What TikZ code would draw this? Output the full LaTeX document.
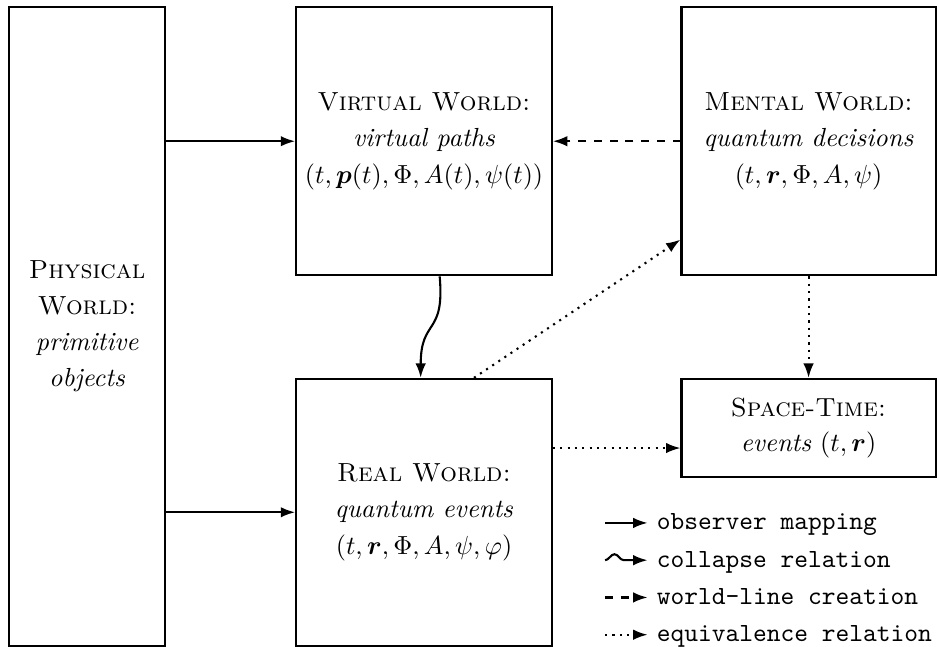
\documentclass[tikz,border=0pt]{standalone}
\usepackage{amsmath}
\usetikzlibrary{arrows.meta, decorations.pathmorphing}

\begin{document}
\begin{tikzpicture}[
 >={Latex[length=5.5pt, width=4pt]},
 world/.style args = {#1/#2}{%
      rectangle, draw, thick, align=center,
      minimum width=#1, minimum height=#2},
 observe/.style  = {->, thick},
 collapse/.style = {->, thick},
 wline/.style    = {->, thick, dashed},
 equiv/.style    = {->, thick, dotted},
 legtxt/.style   = {anchor=west, font=\ttfamily,
                    text height=1.5ex, text depth=.25ex}
                    ]
\useasboundingbox (0,0) rectangle (12.6,8.68);
% worlds
\node (phys) [world=2.10cm/8.57cm]   at ( 1.17, 4.30)
      {\textsc{Physical}\\[1.8pt] \textsc{World:}\\[1.8pt]
       \textit{primitive}\\[1.8pt] \textit{objects}};
\node (virt) [world=3.43cm/3.60cm]   at ( 5.69, 6.785)
      {\textsc{Virtual World:}\\[1.8pt] \textit{virtual paths}\\[1.8pt]
       $(t,\boldsymbol{p}(t),\Phi,A(t),\psi(t))$};
\node (ment) [world=3.41cm/3.60cm]   at (10.85, 6.785)
      {\textsc{Mental World:}\\[1.8pt] \textit{quantum decisions}\\[1.8pt]
       $(t,\boldsymbol{r},\Phi,A,\psi)$};
\node (real) [world=3.43cm/3.58cm]   at ( 5.69, 1.806)
      {\textsc{Real World:}\\[1.8pt] \textit{quantum events}\\[1.8pt]
       $(t,\boldsymbol{r},\Phi,A,\psi,\varphi)$};
\node (st)   [world=3.41cm/1.315cm]  at (10.85, 2.938)
      {\textsc{Space-Time:}\\[1.5pt] \textit{events} $(t,\boldsymbol{r})$};
\coordinate (stin) at ([yshift=-.27cm]st.west);
 %
\draw[observe] (phys.east |- virt.west) -- (virt.west);
\draw[observe] (phys.east |- real.west) -- (real.west);
\draw[wline]   (ment.west) -- (virt.east);
\draw[collapse] ([xshift=.21cm]virt.south)
        to[out=-85, in=90, looseness=1.5] ([xshift=-.045cm]real.north);
\draw[equiv]   ([xshift=.67cm]real.north) -- ([yshift=-1.32cm]ment.west);
\draw[equiv]   (ment.south) -- (st.north);
\draw[equiv]   (real.east |- stin) -- (stin);
% legend
\node (l1) [legtxt] at (8.69, 1.663) {observer mapping};
\node (l2) [legtxt] at (8.69, 1.163) {collapse relation};
\node (l3) [legtxt] at (8.69, 0.663) {world-line creation};
\node (l4) [legtxt] at (8.69, 0.163) {equivalence relation};
\coordinate (s1) at (8.12, 1.663);
\coordinate (s2) at (8.12, 1.163);
\coordinate (s3) at (8.12, 0.663);
\coordinate (s4) at (8.12, 0.163);
\draw[observe]  (s1) -- (l1.west);
\draw[collapse, decorate, decoration={snake, amplitude=.8mm,
        segment length=4mm, post length=1.8mm}] (s2) -- (l2.west);
\draw[wline]    (s3) -- (l3.west);
\draw[equiv]    (s4) -- (l4.west);
\end{tikzpicture}
\end{document}
